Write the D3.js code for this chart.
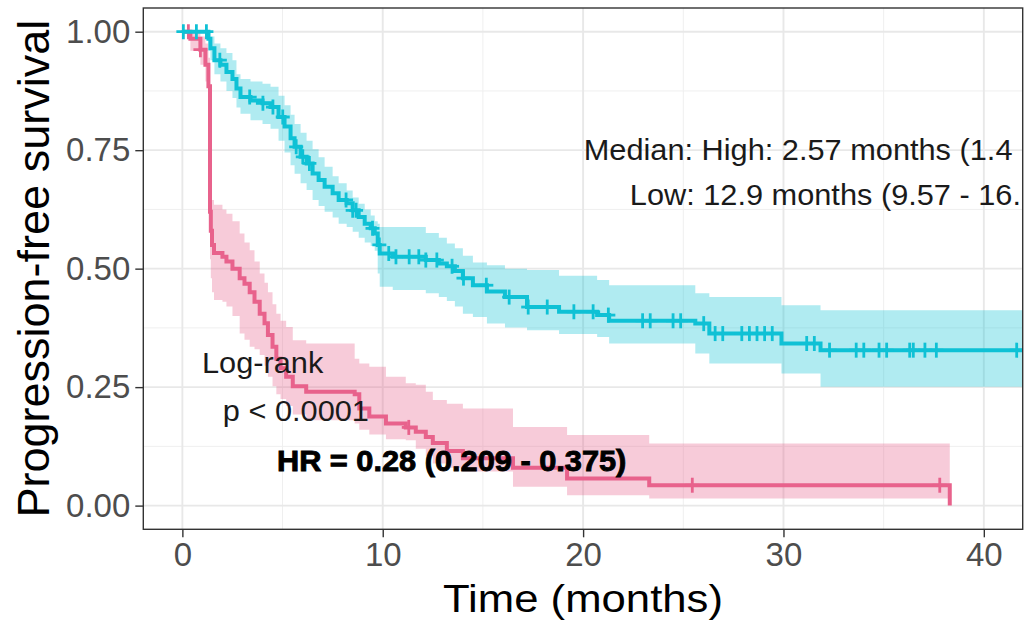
<!DOCTYPE html>
<html>
<head>
<meta charset="utf-8">
<script src="https://cdn.jsdelivr.net/npm/d3@7"></script>
<style>
  body { margin: 0; background: #ffffff; }
  svg { display: block; }
  text { font-family: "Liberation Sans", Arial, Helvetica, sans-serif; }
</style>
</head>
<body>
<svg id="chart" width="1026" height="628"></svg>
<script>
// ---------------- DATA ----------------
const xTicks = [0, 10, 20, 30, 40];
const xMinorTicks = [5, 15, 25, 35];
const yTicks = [0, 0.25, 0.5, 0.75, 1];
const yTickLabels = ["0.00", "0.25", "0.50", "0.75", "1.00"];
const yMinorTicks = [0.125, 0.375, 0.625, 0.875];

// High group (pink)
const highTimes = [0, 0.4, 0.9, 1.15, 1.3, 1.38, 1.42, 1.48, 1.58, 2.0, 2.2, 2.5, 2.86, 3.1, 3.36, 3.6, 3.86, 4.1, 4.27, 4.5, 4.69, 4.9, 5.18, 5.51, 6.18, 8.6, 8.83, 9.33, 10.16, 11.15, 11.65, 12.15, 12.5, 13.2, 14.0, 16.5, 19.2, 23.3, 38.3];
const highSurv  = [1.0, 0.985, 0.962, 0.93, 0.885, 0.62, 0.58, 0.55, 0.533, 0.525, 0.515, 0.5, 0.48, 0.468, 0.45, 0.43, 0.405, 0.385, 0.36, 0.335, 0.31, 0.29, 0.272, 0.252, 0.24, 0.235, 0.205, 0.188, 0.173, 0.165, 0.156, 0.145, 0.132, 0.115, 0.1, 0.08, 0.057, 0.043, 0.0];
const highLower = [1.0, 0.96, 0.93, 0.895, 0.845, 0.52, 0.48, 0.45, 0.434, 0.43, 0.42, 0.40, 0.363, 0.35, 0.335, 0.33, 0.318, 0.295, 0.272, 0.252, 0.235, 0.225, 0.21, 0.192, 0.18, 0.173, 0.16, 0.15, 0.14, 0.138, 0.12, 0.105, 0.089, 0.08, 0.072, 0.04, 0.022, 0.015, null];
const highUpper = [1.0, 1.0, 0.99, 0.975, 0.945, 0.70, 0.67, 0.645, 0.635, 0.625, 0.616, 0.60, 0.574, 0.555, 0.539, 0.515, 0.49, 0.47, 0.45, 0.425, 0.405, 0.39, 0.377, 0.349, 0.342, 0.31, 0.30, 0.293, 0.272, 0.258, 0.255, 0.24, 0.223, 0.215, 0.205, 0.166, 0.149, 0.131, null];
const highCensor = [0.3, 0.9, 11.3, 25.45, 37.8];

// Low group (cyan)
const lowTimes = [0, 1.3, 1.4, 1.6, 1.9, 2.2, 2.5, 2.7, 2.9, 3.4, 4.0, 4.4, 4.8, 5.1, 5.4, 5.6, 5.9, 6.2, 6.5, 6.8, 7.1, 7.5, 7.8, 8.2, 8.5, 8.8, 9.1, 9.4, 9.6, 9.75, 9.85, 10.5, 12.15, 12.8, 13.2, 13.6, 14.0, 14.5, 15.2, 16.1, 17.2, 18.8, 20.7, 21.3, 25.6, 26.3, 29.9, 31.85, 42.5];
const lowSurv  = [1.0, 0.985, 0.965, 0.94, 0.93, 0.915, 0.9, 0.88, 0.862, 0.855, 0.849, 0.841, 0.82, 0.80, 0.775, 0.757, 0.736, 0.722, 0.701, 0.687, 0.673, 0.659, 0.645, 0.638, 0.623, 0.609, 0.595, 0.585, 0.574, 0.55, 0.532, 0.525, 0.518, 0.511, 0.505, 0.495, 0.48, 0.465, 0.452, 0.44, 0.419, 0.409, 0.402, 0.39, 0.384, 0.363, 0.342, 0.328, 0.328];
const lowLower = [1.0, 0.96, 0.94, 0.91, 0.895, 0.875, 0.86, 0.84, 0.827, 0.813, 0.805, 0.795, 0.77, 0.745, 0.718, 0.70, 0.68, 0.666, 0.645, 0.632, 0.62, 0.608, 0.595, 0.588, 0.578, 0.565, 0.555, 0.548, 0.538, 0.49, 0.462, 0.455, 0.448, 0.44, 0.432, 0.42, 0.405, 0.398, 0.384, 0.376, 0.37, 0.362, 0.356, 0.342, 0.321, 0.30, 0.279, 0.251, 0.251];
const lowUpper = [1.0, 1.0, 0.99, 0.975, 0.965, 0.955, 0.94, 0.91, 0.90, 0.895, 0.89, 0.884, 0.865, 0.845, 0.825, 0.805, 0.787, 0.77, 0.752, 0.735, 0.715, 0.695, 0.68, 0.665, 0.65, 0.637, 0.625, 0.612, 0.60, 0.595, 0.588, 0.588, 0.575, 0.565, 0.553, 0.543, 0.527, 0.513, 0.507, 0.50, 0.497, 0.485, 0.476, 0.465, 0.448, 0.44, 0.423, 0.412, 0.412];
const lowCensor = [0.05, 0.7, 1.2, 1.87, 3.36, 4.02, 4.52, 5.01, 5.68, 6.01, 6.34, 8.17, 8.5, 8.67, 9.49, 9.83, 10.3, 10.66, 11.32, 11.8, 12.15, 12.7, 13.46, 14.03, 15.17, 16.31, 17.26, 18.21, 19.54, 20.5, 21.26, 22.97, 23.35, 24.49, 24.87, 26.02, 26.59, 26.97, 27.92, 28.3, 28.68, 29.06, 29.44, 31.16, 31.54, 32.3, 33.63, 34.01, 34.77, 35.15, 36.3, 36.48, 37.06, 37.63, 41.64];

// Annotations (text, data-x, data-y, bold)
const annotationTexts = ["Median: High: 2.57 months (1.4", "Low: 12.9 months (9.57 - 16.", "Log-rank", "p < 0.0001", "HR = 0.28 (0.209 - 0.375)"];
const annotationX = [20.03, 22.33, 0.98, 2.02, 4.72];
const annotationY = [0.729, 0.634, 0.28, 0.1785, 0.073];
const annotationBold = [false, false, false, false, true];

const xTitle = "Time (months)";
const yTitle = "Progression-free survival";

// ---------------- LAYOUT ----------------
const panel = { left: 143.3, right: 1022.7, top: 8, bottom: 529.3 };
const colHigh = "#E8628C", colLow = "#0FC1D5";

const svg = d3.select("#chart");
const x = d3.scaleLinear().domain([-1.95, 41.94]).range([panel.left, panel.right]);
const y = d3.scaleLinear().domain([-0.05, 1.05]).range([panel.bottom, panel.top]);

svg.append("defs").append("clipPath").attr("id", "pclip")
  .append("rect").attr("x", panel.left).attr("y", panel.top)
  .attr("width", panel.right - panel.left).attr("height", panel.bottom - panel.top);

svg.append("rect").attr("x", panel.left).attr("y", panel.top)
  .attr("width", panel.right - panel.left).attr("height", panel.bottom - panel.top)
  .attr("fill", "#ffffff");

// grid
const grid = svg.append("g").attr("clip-path", "url(#pclip)");
grid.selectAll(".xminor").data(xMinorTicks).join("line")
  .attr("x1", d => x(d)).attr("x2", d => x(d)).attr("y1", panel.top).attr("y2", panel.bottom)
  .attr("stroke", "#EFEFEF").attr("stroke-width", 1);
grid.selectAll(".yminor").data(yMinorTicks).join("line")
  .attr("y1", d => y(d)).attr("y2", d => y(d)).attr("x1", panel.left).attr("x2", panel.right)
  .attr("stroke", "#EFEFEF").attr("stroke-width", 1);
grid.selectAll(".xmajor").data(xTicks).join("line")
  .attr("x1", d => x(d)).attr("x2", d => x(d)).attr("y1", panel.top).attr("y2", panel.bottom)
  .attr("stroke", "#E8E8E8").attr("stroke-width", 1.9);
grid.selectAll(".ymajor").data(yTicks).join("line")
  .attr("y1", d => y(d)).attr("y2", d => y(d)).attr("x1", panel.left).attr("x2", panel.right)
  .attr("stroke", "#E8E8E8").attr("stroke-width", 1.9);

// curves
const plot = svg.append("g").attr("clip-path", "url(#pclip)");

function bandPoints(times, lower, upper) {
  const pts = [];
  for (let i = 0; i < times.length; i++) {
    if (lower[i] == null) {
      pts.push({ t: times[i], lo: lower[i - 1], hi: upper[i - 1] });
      break;
    }
    pts.push({ t: times[i], lo: lower[i], hi: upper[i] });
  }
  return pts;
}
function survAt(times, surv, t) {
  const i = Math.max(0, d3.bisectRight(times, t) - 1);
  return surv[i];
}

const area = d3.area().curve(d3.curveStepAfter)
  .x(d => x(d.t)).y0(d => y(d.lo)).y1(d => y(d.hi));
const line = d3.line().curve(d3.curveStepAfter)
  .x(d => x(d.t)).y(d => y(d.s));

const groups = [
  { times: highTimes, surv: highSurv, lower: highLower, upper: highUpper, censor: highCensor, col: colHigh },
  { times: lowTimes, surv: lowSurv, lower: lowLower, upper: lowUpper, censor: lowCensor, col: colLow }
];

groups.forEach(g => {
  plot.append("path").datum(bandPoints(g.times, g.lower, g.upper))
    .attr("d", area).attr("fill", g.col).attr("fill-opacity", 0.33).attr("stroke", "none");
});
groups.forEach(g => {
  plot.append("path").datum(g.times.map((t, i) => ({ t: t, s: g.surv[i] })))
    .attr("d", line).attr("fill", "none").attr("stroke", g.col).attr("stroke-width", 4);
  const cg = plot.append("g");
  g.censor.forEach(t => {
    const cx = x(t), cy = y(survAt(g.times, g.surv, t));
    cg.append("line").attr("x1", cx - 7).attr("x2", cx + 7).attr("y1", cy).attr("y2", cy)
      .attr("stroke", g.col).attr("stroke-width", 2.8);
    cg.append("line").attr("x1", cx).attr("x2", cx).attr("y1", cy - 7.5).attr("y2", cy + 7.5)
      .attr("stroke", g.col).attr("stroke-width", 2.8);
  });
});

// annotations
const ann = svg.append("g");
annotationTexts.forEach((txt, i) => {
  const t = ann.append("text")
    .attr("transform", `translate(${x(annotationX[i])},${y(annotationY[i])}) scale(1.06,1)`)
    .attr("font-size", 29)
    .attr("fill", annotationBold[i] ? "#000000" : "#1a1a1a")
    .attr("font-weight", annotationBold[i] ? "bold" : "normal")
    .text(txt);
  if (annotationBold[i]) t.attr("stroke", "#000").attr("stroke-width", 0.9);
});

// panel border
svg.append("rect").attr("x", panel.left).attr("y", panel.top)
  .attr("width", panel.right - panel.left).attr("height", panel.bottom - panel.top)
  .attr("fill", "none").attr("stroke", "#333333").attr("stroke-width", 1.4);

// axes
const yAxis = svg.append("g").attr("transform", `translate(${panel.left},0)`)
  .call(d3.axisLeft(y).tickValues(yTicks).tickFormat((d, i) => yTickLabels[i]).tickSize(8).tickPadding(5));
const xAxis = svg.append("g").attr("transform", `translate(0,${panel.bottom})`)
  .call(d3.axisBottom(x).tickValues(xTicks).tickFormat(d3.format("d")).tickSize(8).tickPadding(5));
[yAxis, xAxis].forEach(a => {
  a.select(".domain").remove();
  a.selectAll(".tick line").attr("stroke", "#333333").attr("stroke-width", 1.4);
  a.selectAll(".tick text").attr("fill", "#4D4D4D").attr("font-size", 33)
    .attr("font-family", "\"Liberation Sans\", Arial, sans-serif");
});

// titles
svg.append("text")
  .attr("transform", `translate(${(panel.left + panel.right) / 2},612) scale(1.15,1)`)
  .attr("text-anchor", "middle").attr("font-size", 38).attr("fill", "#000").text(xTitle);
svg.append("text")
  .attr("transform", `translate(49,${(panel.top + panel.bottom) / 2}) rotate(-90)`)
  .attr("text-anchor", "middle").attr("font-size", 45).attr("fill", "#000").text(yTitle);
</script>
</body>
</html>
